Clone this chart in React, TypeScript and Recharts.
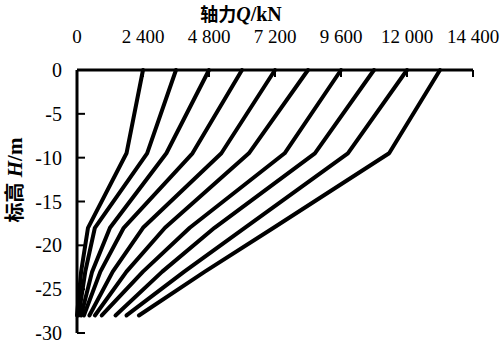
import { LineChart, Line, XAxis, YAxis, Label } from "recharts";

// elevation of the gauges, m
const depths = [0, -9.5, -18, -23, -28];

// axial force at each depth for every load step, kN
const q2400 = [2400, 1800, 400, 150, 0];
const q3600 = [3600, 2550, 650, 300, 60];
const q4800 = [4800, 3250, 1200, 550, 150];
const q6000 = [6000, 4200, 1700, 850, 250];
const q7200 = [7200, 5250, 2400, 1300, 450];
const q8400 = [8400, 6250, 3200, 1800, 650];
const q9600 = [9600, 7550, 4100, 2400, 900];
const q10800 = [10800, 8650, 5000, 3100, 1400];
const q12000 = [12000, 9850, 6100, 3900, 1800];
const q13200 = [13200, 11350, 7150, 4650, 2250];

const loadSteps = [q2400, q3600, q4800, q6000, q7200, q8400, q9600, q10800, q12000, q13200];

const xTicks = [0, 2400, 4800, 7200, 9600, 12000, 14400];
const yTicks = [0, -5, -10, -15, -20, -25, -30];

const serif = "'Liberation Serif', 'Times New Roman', serif";
const cjk = "'Noto Sans CJK SC', sans-serif";

const fmtThousands = (v: number) =>
  String(v).replace(/\B(?=(\d{3})+(?!\d))/g, " ");

// tick label plus a short tick pointing into the plot
const XTick = (props: any) => {
  const { x, y, payload } = props;
  return (
    <g>
      <line x1={x} x2={x} y1={y + 27} y2={y + 34} stroke="#000" strokeWidth={2} />
      <text x={x} y={y} textAnchor="middle" fontSize={19} fontFamily={serif} fill="#000">
        {fmtThousands(payload.value)}
      </text>
    </g>
  );
};

const YTick = (props: any) => {
  const { x, y, payload } = props;
  return (
    <g>
      <line x1={x + 15} x2={x + 23} y1={y} y2={y} stroke="#000" strokeWidth={2} />
      <text x={x} y={y} dy="0.35em" textAnchor="end" fontSize={20} fontFamily={serif} fill="#000">
        {payload.value}
      </text>
    </g>
  );
};

export default function App() {
  const series = loadSteps.map((qs) =>
    depths.map((h, i) => ({ h, q: qs[i] }))
  );

  return (
    <div style={{ position: "absolute", left: 0, top: 0, background: "#fff" }}>
      <LineChart
        width={503}
        height={349}
        margin={{ top: 30, right: 30, bottom: 16, left: 0 }}
      >
        <XAxis
          type="number"
          dataKey="q"
          orientation="top"
          domain={[0, 14400]}
          ticks={xTicks}
          height={40}
          stroke="#000"
          strokeWidth={3}
          tickLine={false}
          tickSize={0}
          tickMargin={27}
          tick={<XTick />}
          interval={0}
        >
          <Label
            content={() => (
              <text
                x={241}
                y={21}
                textAnchor="middle"
                fontSize={18}
                fontWeight="bold"
                fill="#000"
                fontFamily={cjk}
              >
                轴力
                <tspan fontFamily={serif} fontStyle="italic" fontSize={20}>
                  Q
                </tspan>
                <tspan fontFamily={serif} fontSize={20}>
                  /kN
                </tspan>
              </text>
            )}
          />
        </XAxis>
        <YAxis
          type="number"
          domain={[-30, 0]}
          ticks={yTicks}
          width={77}
          stroke="#000"
          strokeWidth={3}
          tickLine={false}
          tickSize={0}
          tickMargin={15}
          tick={<YTick />}
          interval={0}
        >
          <Label
            content={() => (
              <text
                x={0}
                y={0}
                transform="translate(22,180) rotate(-90)"
                textAnchor="middle"
                fontSize={20}
                fontWeight="bold"
                fill="#000"
                fontFamily={cjk}
              >
                标高
                <tspan fontFamily={serif} fontStyle="italic" fontSize={21}>
                  {" H"}
                </tspan>
                <tspan fontFamily={serif} fontSize={21}>
                  /m
                </tspan>
              </text>
            )}
          />
        </YAxis>
        {series.map((d, i) => (
          <Line
            key={i}
            data={d}
            dataKey="h"
            type="linear"
            stroke="#000"
            strokeWidth={4}
            strokeLinejoin="round"
            strokeLinecap="round"
            dot={false}
            isAnimationActive={false}
          />
        ))}
      </LineChart>
    </div>
  );
}
